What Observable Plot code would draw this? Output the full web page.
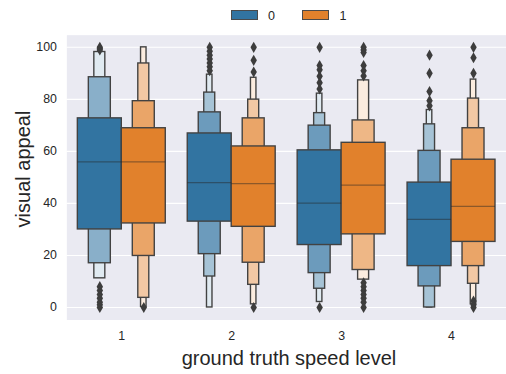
<!DOCTYPE html>
<html>
<head>
<meta charset="utf-8">
<script src="https://cdn.jsdelivr.net/npm/d3@7"></script>
<script src="https://cdn.jsdelivr.net/npm/@observablehq/plot@0.6"></script>
<style>
  html, body { margin: 0; padding: 0; background: #fff; overflow: hidden; }
  #wrap { position: relative; width: 506px; height: 374px; overflow: hidden; font-family: "Liberation Sans", Arial, sans-serif; color: #262626; }
  #chart { position: absolute; left: 0; top: 0; }
  .lab { position: absolute; white-space: nowrap; font-size: 20px; line-height: 20px; }
  #xlab { left: 289px; top: 348px; transform: translateX(-50%); }
  #ylab { left: 23px; top: 169px; transform: translate(-50%, -50%) rotate(-90deg); }
  .sw { position: absolute; top: 10px; width: 27px; height: 10px; box-sizing: border-box; border: 1px solid #4a4a4a; }
  .lt { position: absolute; top: 10px; font-size: 12.5px; line-height: 12.5px; }
</style>
</head>
<body>
<div id="wrap">
  <div id="chart"></div>
  <div class="sw" id="sw0" style="left:230.5px"></div>
  <div class="lt" id="lt0" style="left:268px"></div>
  <div class="sw" id="sw1" style="left:301.5px"></div>
  <div class="lt" id="lt1" style="left:339.5px"></div>
  <div class="lab" id="xlab">ground truth speed level</div>
  <div class="lab" id="ylab">visual appeal</div>
</div>
<script>
// categories and series
const groups = [1, 2, 3, 4];
const hues = ["0", "1"];
const hueColors = ["#3274A1", "#E1812C"];
const yTicks = [0, 20, 40, 60, 80, 100];

// medians per ground-truth level
const median0 = [56.0, 48.0, 40.1, 33.9];
const median1 = [56.0, 47.6, 47.0, 38.9];

// letter-value box bounds (innermost first)
const upper0 = [[72.7, 88.5, 98.2], [66.9, 75.0, 82.6, 89.5], [60.4, 69.9, 74.7, 82.2], [48.0, 60.2, 70.4, 75.9]];
const lower0 = [[30.0, 17.0, 11.2], [33.0, 20.5, 11.9, 0.0], [24.0, 13.2, 7.2, 2.1], [15.9, 8.1, 0.0, 0.0]];
const upper1 = [[68.9, 79.3, 93.8, 100.0], [61.9, 72.7, 79.9, 88.3], [63.3, 71.9, 87.3], [56.8, 68.9, 80.3, 87.6]];
const lower1 = [[32.3, 19.8, 3.7, 0.2], [31.0, 17.2, 8.7, 1.2], [28.1, 14.4, 10.7], [25.2, 15.9, 9.1, 1.2]];

// outliers
const outliers0 = [
  [100, 99.5, 99, 8, 6.5, 5, 3.5, 2, 1, 0],
  [100, 98.5, 97, 95.5, 94, 92.5, 91],
  [100, 93, 91.4, 88.9, 86.4, 84, 0],
  [97, 90, 83, 79.5, 77.5]
];
const outliers1 = [
  [0],
  [100, 95, 90.5, 0],
  [100, 99, 98, 93, 91, 89, 9.5, 8, 6.5, 5, 3.5, 2, 0],
  [100, 96, 90, 2.5, 1, 0]
];

// legend
document.getElementById("sw0").style.background = hueColors[0];
document.getElementById("sw1").style.background = hueColors[1];
document.getElementById("lt0").textContent = hues[0];
document.getElementById("lt1").textContent = hues[1];

const halfWidth = 0.4; // each hue box width in category units
const boxes = [], medians = [], outs = [];
groups.forEach((g, gi) => {
  hues.forEach((h, hi) => {
    const up = hi ? upper1[gi] : upper0[gi];
    const lo = hi ? lower1[gi] : lower0[gi];
    const n = up.length;
    const c = g - halfWidth / 2 + halfWidth * hi;
    for (let k = 0; k < n; k++) {
      const w = halfWidth * Math.pow(0.5, k);
      boxes.push({
        x1: c - w / 2, x2: c + w / 2, y1: lo[k], y2: up[k], k,
        fill: d3.interpolateRgb(hueColors[hi], "#ffffff")(0.85 * k / (n - 1))
      });
    }
    medians.push({x1: c - halfWidth / 2, x2: c + halfWidth / 2, v: hi ? median1[gi] : median0[gi]});
    (hi ? outliers1[gi] : outliers0[gi]).forEach(v => outs.push({x: c, v}));
  });
});
boxes.sort((a, b) => b.k - a.k);

const chart = Plot.plot({
  width: 511,
  height: 374,
  marginLeft: 67,
  marginRight: 0,
  marginTop: 35,
  marginBottom: 51.3,
  style: {fontFamily: "'Liberation Sans', Arial, sans-serif", fontSize: "12.5px", color: "#262626", background: "transparent"},
  x: {type: "linear", domain: [0.5, 4.5], ticks: groups, tickSize: 0, tickPadding: 11, tickFormat: d => String(d), label: null},
  y: {domain: [-4.83, 104.68], ticks: yTicks, tickSize: 0, tickPadding: 10, label: null},
  marks: [
    Plot.frame({fill: "#EAEAF2"}),
    Plot.ruleY(yTicks, {stroke: "#ffffff", strokeWidth: 1.1}),
    Plot.rect(boxes, {x1: "x1", x2: "x2", y1: "y1", y2: "y2", fill: d => d.fill, stroke: "#424242", strokeWidth: 1.4}),
    Plot.ruleY(medians, {y: "v", x1: "x1", x2: "x2", stroke: "#262626", strokeOpacity: 0.45, strokeWidth: 1.3}),
    Plot.dot(outs, {x: "x", y: "v", symbol: "diamond", r: 3.4, fill: "#3d3d3d", stroke: "none"})
  ]
});
document.getElementById("chart").appendChild(chart);
</script>
</body>
</html>
